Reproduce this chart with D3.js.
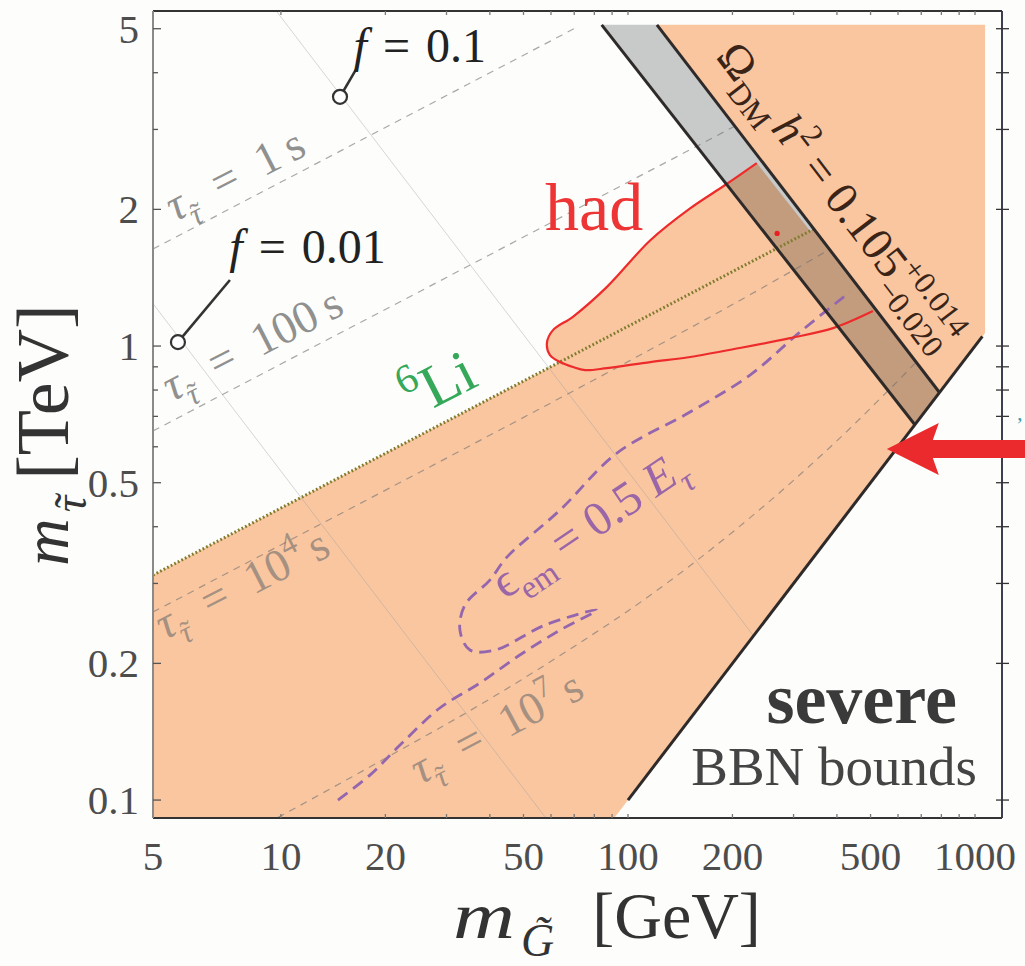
<!DOCTYPE html>
<html>
<head>
<meta charset="utf-8">
<script src="https://cdn.jsdelivr.net/npm/d3@7"></script>
<style>
  body { margin: 0; background: #fdfdfb; }
  svg { display: block; }
  text { font-family: "Liberation Serif", "Times New Roman", serif; }
</style>
</head>
<body>
<div id="chart"></div>
<script>
/* global d3 */

// ---- data: m_G [GeV] vs m_stau [TeV] ----
var xDomain = [4.28, 1196];     // frame edges
var yDomain = [0.0913, 5.47];
var xTicks = [10, 20, 50, 100, 200, 500, 1000];
var xMinor = [10, 20, 30, 40, 50, 60, 70, 80, 90, 100, 200, 300, 400, 500, 600, 700, 800, 900, 1000];
var yTicks = [0.1, 0.2, 0.5, 1, 2, 5];
var yMinor = [0.1, 0.2, 0.3, 0.4, 0.5, 0.6, 0.7, 0.8, 0.9, 1, 2, 3, 4, 5];

var regionTop = 5.1, regionRight = 1069;
var li6Line = [[4.28, 0.313], [343, 1.81]];
var bandLeft = [[84.0, 5.1], [671, 0.671]];
var bandRight = [[121.2, 5.1], [790, 0.79]];
var kinEdge = [[91.3, 0.0913], [1069, 1.069]];
var kinStroke = [[100, 0.1], [1050, 1.05]];

var tau1s   = [[4.28, 1.636], [10, 2.297], [30, 3.563], [69.9, 5.0]];
var tau100s = [[4.28, 0.65], [10, 0.913], [30, 1.416], [100, 2.296], [160, 2.77], [203, 3.05]];
var tau1e4  = [[4.28, 0.2595], [10, 0.3647], [30, 0.5665], [100, 0.924], [200, 1.234], [300, 1.47], [380, 1.63]];
var tau1e7  = [[9.8, 0.0915], [20, 0.1236], [40, 0.167], [70, 0.218], [100, 0.261], [150, 0.327],
               [200, 0.389], [300, 0.506], [450, 0.674], [555, 0.79], [620, 0.86], [670, 0.915]];

var hadContour = [[235, 2.53], [190, 2.26], [151, 2.01], [116, 1.71], [87, 1.35], [69.4, 1.16],
                  [60.8, 1.084], [58.4, 1.015], [59.6, 0.955], [63.7, 0.922], [69.4, 0.899],
                  [75.2, 0.885], [87, 0.894], [116, 0.922], [151, 0.946], [210, 0.99],
                  [293, 1.041], [390, 1.095], [508, 1.194]];

var emContour = [[14.6, 0.1], [18.05, 0.1135], [22.0, 0.132], [28.7, 0.1595], [37.45, 0.181],
                 [48.8, 0.2087], [63.7, 0.2367], [81.4, 0.2621], [57.7, 0.2429], [41.4, 0.214],
                 [35.05, 0.214], [32.8, 0.2367], [33.9, 0.2689], [40.0, 0.3052], [44.8, 0.3428],
                 [63.7, 0.4352], [93.0, 0.5813], [150.9, 0.7155], [224.7, 0.8631], [313, 1.0735],
                 [436, 1.315]];

var fLine01 = [[9.7, 5.47], [230, 0.23]];
var fLine001 = [[4.28, 1.24], [58, 0.0913]];
var fMarks = [{label: "0.1", at: [14.8, 3.54], to: [16.56, 4.10], text: [16.2, 4.22]},
              {label: "0.01", at: [5.05, 1.02], to: [7.13, 1.398], text: [7.1, 1.523]}];
var bestPoint = [269, 1.77];
var arrowTip = [557, 0.593];

// ---- layout ----
var width = 1025, height = 966,
    margin = {top: 11, right: 23, bottom: 148, left: 153};

var xScale = d3.scaleLog().domain(xDomain).range([margin.left, width - margin.right]);
var yScale = d3.scaleLog().domain(yDomain).range([height - margin.bottom, margin.top]);

function X(d) { return xScale(d[0]); }
function Y(d) { return yScale(d[1]); }

var svg = d3.select("#chart").append("svg")
    .attr("width", width)
    .attr("height", height);

svg.append("rect").attr("width", width).attr("height", height).attr("fill", "#fdfdfb");

svg.append("clipPath").attr("id", "plot")
  .append("rect")
    .attr("x", margin.left).attr("y", margin.top)
    .attr("width", width - margin.left - margin.right)
    .attr("height", height - margin.top - margin.bottom);

var plot = svg.append("g").attr("clip-path", "url(#plot)");

var straight = d3.line().x(X).y(Y);
var smooth = d3.line().x(X).y(Y).curve(d3.curveMonotoneX);
var round = d3.line().x(X).y(Y).curve(d3.curveCatmullRom.alpha(0.5));

var orange = "#f9c6a0";

// excluded region
var region = [[xDomain[0], yDomain[0]], li6Line[0], li6Line[1], bandRight[0],
              [regionRight, regionTop], kinEdge[1], kinEdge[0]];
plot.append("path")
    .attr("d", straight(region) + "Z")
    .attr("fill", orange);

plot.append("path")
    .attr("d", round(hadContour) + "Z")
    .attr("fill", orange);

// Omega band
plot.append("path")
    .attr("d", straight([bandLeft[0], bandRight[0], bandRight[1], bandLeft[1]]) + "Z")
    .attr("fill", "#c8c9c9")
    .style("mix-blend-mode", "multiply");

// faint lines of constant f
[fLine01, fLine001].forEach(function (l) {
  plot.append("path")
      .attr("d", straight(l))
      .attr("fill", "none")
      .attr("stroke", "#9a9a9a")
      .attr("stroke-opacity", 0.4)
      .attr("stroke-width", 1);
});

// stau lifetime contours
[tau1s, tau100s, tau1e4, tau1e7].forEach(function (l) {
  plot.append("path")
      .attr("d", smooth(l))
      .attr("fill", "none")
      .attr("stroke", "#707070")
      .attr("stroke-opacity", 0.6)
      .attr("stroke-width", 1.2)
      .attr("stroke-dasharray", "7 6");
});

// 6Li bound
plot.append("path")
    .attr("d", straight(li6Line))
    .attr("fill", "none")
    .attr("stroke", "#7f7c2e")
    .attr("stroke-width", 3)
    .attr("stroke-dasharray", "1.8 2.2");

// electromagnetic energy contour
plot.append("path")
    .attr("d", round(emContour))
    .attr("fill", "none")
    .attr("stroke", "#9466ae")
    .attr("stroke-width", 2.8)
    .attr("stroke-dasharray", "12 7");

// hadronic bound
plot.append("path")
    .attr("d", round(hadContour))
    .attr("fill", "none")
    .attr("stroke", "#ee2b2b")
    .attr("stroke-width", 2.2);

// band edges and m_G = m_stau
[bandLeft, bandRight, kinStroke].forEach(function (l) {
  plot.append("path")
      .attr("d", straight(l))
      .attr("fill", "none")
      .attr("stroke", "#2e2a2a")
      .attr("stroke-width", 3);
});

plot.append("circle")
    .attr("cx", X(bestPoint)).attr("cy", Y(bestPoint))
    .attr("r", 2.6).attr("fill", "#e82020");

// ---- frame and ticks ----
var x0 = margin.left, x1 = width - margin.right, y0 = height - margin.bottom, y1 = margin.top;
var frame = svg.append("g").attr("fill", "none").attr("stroke-width", 2);
frame.append("line").attr("x1", x0).attr("x2", x1).attr("y1", y1).attr("y2", y1).attr("stroke", "#333");
frame.append("line").attr("x1", x0).attr("x2", x1).attr("y1", y0).attr("y2", y0).attr("stroke", "#333");
frame.append("line").attr("x1", x0).attr("x2", x0).attr("y1", y1).attr("y2", y0).attr("stroke", "#8a8a8a");
frame.append("line").attr("x1", x1).attr("x2", x1).attr("y1", y1).attr("y2", y0).attr("stroke", "#3c3f50");

var ticks = svg.append("g").attr("stroke-width", 1.3);
xMinor.forEach(function (v) {
  ticks.append("line").attr("x1", xScale(v)).attr("x2", xScale(v))
      .attr("y1", y0).attr("y2", y0 - 4).attr("stroke", "#777");
  ticks.append("line").attr("x1", xScale(v)).attr("x2", xScale(v))
      .attr("y1", y1).attr("y2", y1 + 4).attr("stroke", "#777");
});
yMinor.forEach(function (v) {
  var major = yTicks.indexOf(v) >= 0;
  ticks.append("line").attr("y1", yScale(v)).attr("y2", yScale(v))
      .attr("x1", x0).attr("x2", x0 + (major ? 8 : 5)).attr("stroke", "#555");
  ticks.append("line").attr("y1", yScale(v)).attr("y2", yScale(v))
      .attr("x1", x1 - 6).attr("x2", x1 + 7).attr("stroke", "#333");
});

var tickFont = 41;
svg.append("g").selectAll("text").data(xTicks).enter().append("text")
    .attr("x", function (d) { return xScale(d); })
    .attr("y", 870)
    .attr("text-anchor", "middle")
    .attr("font-size", tickFont)
    .attr("fill", "#4d4d4d")
    .text(function (d) { return d; });
// first label sits at the frame corner
svg.append("text")
    .attr("x", x0).attr("y", 870)
    .attr("text-anchor", "middle")
    .attr("font-size", tickFont)
    .attr("fill", "#4d4d4d")
    .text("5");

svg.append("g").selectAll("text").data(yTicks).enter().append("text")
    .attr("x", x0 - 14)
    .attr("y", function (d) { return yScale(d) + 14; })
    .attr("text-anchor", "end")
    .attr("font-size", tickFont)
    .attr("fill", "#4d4d4d")
    .text(function (d) { return d; });

// ---- math-ish labels ----
function mathText(sel, parts, fs) {
  var shift = 0, carry = 0;
  parts.forEach(function (p) {
    var size = p.size || ((p.sub || p.sup) ? fs * 0.68 : fs);
    var want = p.sub ? 0.28 * fs : p.sup ? -0.42 * fs : 0;
    var t = sel.append("tspan")
        .attr("dy", want - shift)
        .attr("dx", (p.dx || 0) + carry)
        .attr("font-size", size)
        .text(p.t);
    carry = 0;
    shift = want;
    if (p.it) t.attr("font-style", "italic");
    if (p.len) t.attr("textLength", p.len).attr("lengthAdjust", "spacingAndGlyphs");
    if (p.tilde) {
      var w = t.node().getComputedTextLength();
      var tl = sel.append("tspan").attr("font-size", size).text("\u02dc");
      var tw = tl.node().getComputedTextLength();
      var lean = p.it ? 0.08 * size : 0;
      tl.attr("dx", -(w + tw) / 2 + lean);
      carry = (w - tw) / 2 - lean;
    }
  });
  return sel;
}

function label(at, angle, fs, color, parts) {
  var g = svg.append("text")
      .attr("transform", "translate(" + X(at) + "," + Y(at) + ") rotate(" + angle + ")")
      .attr("font-size", fs)
      .attr("fill", color);
  return mathText(g, parts, fs);
}

// axis titles
label([xScale.invert(453), yScale.invert(938)], 0, 66, "#333",
  [{t: "m", it: true, len: 62}, {t: "G\u0303", it: true, sub: true, size: 46, dx: 6},
   {t: "[GeV]", dx: 38}]);
label([xScale.invert(68), yScale.invert(566)], -90, 66, "#333",
  [{t: "m", it: true}, {t: "\u03c4", it: true, sub: true, size: 46, dx: 6, tilde: true},
   {t: "[TeV]", size: 74, dx: 16}]);

// lifetime labels
var tauCol = "#6c6c6c", tauFont = 46;
function tauParts(val, pow) {
  var p = [{t: "\u03c4", it: true}, {t: "\u03c4", it: true, sub: true, tilde: true}];
  if (pow) {
    p.push({t: "\u2002=\u200210"}, {t: pow, sup: true}, {t: "\u2009s"});
  } else {
    p.push({t: "\u2002=\u2002" + val + "\u2009s"});
  }
  return p;
}
label([4.95, 1.876], -27, tauFont, tauCol, tauParts("1")).attr("fill-opacity", 0.75);
label([4.85, 0.7526], -27, tauFont, tauCol, tauParts("100")).attr("fill-opacity", 0.75);
label([4.63, 0.225], -27, tauFont, tauCol, tauParts(null, "4")).attr("fill-opacity", 0.6);
label([25.2, 0.108], -28, tauFont, tauCol, tauParts(null, "7")).attr("fill-opacity", 0.6);

// f markers
fMarks.forEach(function (m) {
  svg.append("line")
      .attr("x1", X(m.at)).attr("y1", Y(m.at))
      .attr("x2", X(m.to)).attr("y2", Y(m.to))
      .attr("stroke", "#333").attr("stroke-width", 2.6);
  svg.append("circle")
      .attr("cx", X(m.at)).attr("cy", Y(m.at)).attr("r", 7)
      .attr("fill", "#fff").attr("stroke", "#333").attr("stroke-width", 2.2);
  label(m.text, 0, 48, "#222", [{t: "f", it: true}, {t: "\u2004=\u2004" + m.label}]);
});

label([57.7, 1.80], 0, 68, "#ee3535", [{t: "had"}]);
label([24.3, 0.694], -27, 60, "#35a85a", [{t: "6", sup: true}, {t: "Li"}]);

// Omega band label
var om = label([178, 4.33], 52.6, 46, "#3a2418",
  [{t: "\u03a9"}, {t: "DM", sub: true}, {t: "h", it: true, dx: 6}, {t: "2", sup: true},
   {t: " = 0.105"}, {t: "+0.014", sup: true}]);
var supLen = om.select("tspan:last-child").node().getComputedTextLength();
om.append("tspan").attr("dx", -supLen).attr("dy", 0.72 * 46)
    .attr("font-size", 46 * 0.68).text("\u22120.020");

label([44.2, 0.2757], -34, 48, "#9a66a8",
  [{t: "\u03f5"}, {t: "em", sub: true}, {t: " = 0.5 "}, {t: "E", it: true}, {t: "\u03c4", it: true, sub: true}]);

svg.append("text")
    .attr("x", xScale(887)).attr("y", yScale(0.1478))
    .attr("text-anchor", "end").attr("font-size", 72).attr("font-weight", "bold")
    .attr("fill", "#3a3a3a").text("severe");
svg.append("text")
    .attr("x", xScale(1013)).attr("y", yScale(0.108))
    .attr("text-anchor", "end").attr("font-size", 55)
    .attr("fill", "#444").text("BBN bounds");

// pointer arrow from the right
svg.append("path")
    .attr("transform", "translate(" + X(arrowTip) + "," + Y(arrowTip) + ")")
    .attr("d", "M0,0L52,-26L46,-9L150,-9L150,9L46,9L52,26Z")
    .attr("fill", "#ea2a2c");
svg.append("text")
    .attr("x", 1016).attr("y", 432)
    .attr("font-size", 22).attr("fill", "#3a9aa8").text("\u2019");
</script>
</body>
</html>
